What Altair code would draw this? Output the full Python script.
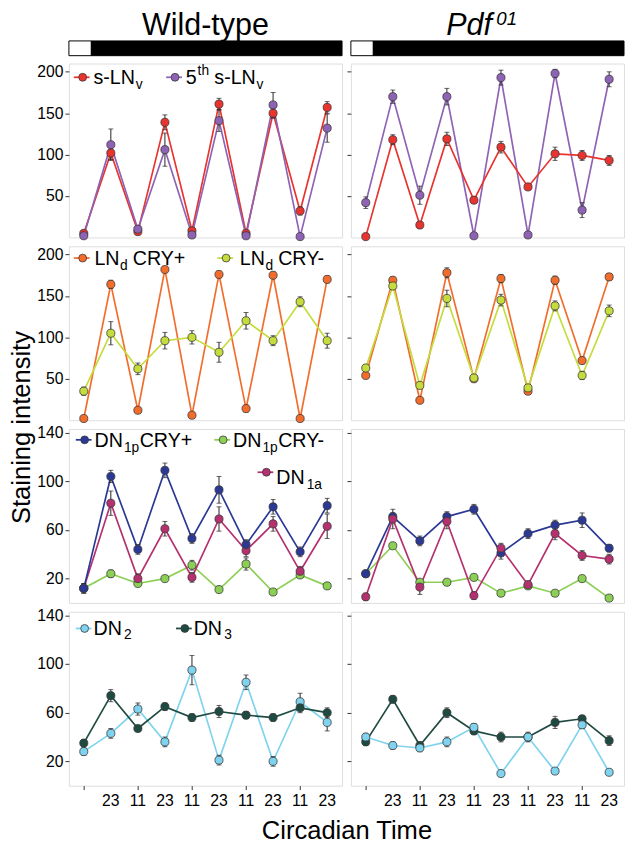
import altair as alt
import pandas as pd

FONT = "Liberation Sans"

# ---------------- data ----------------
ct_index = [1, 2, 3, 4, 5, 6, 7, 8, 9, 10]
ct_labels = ["", "23", "11", "23", "11", "23", "11", "23", "11", "23"]

# row 1 : s-LNv / 5th s-LNv
wt_slnv = [5, 102, 7, 139, 8, 161, 5, 150, 32, 157]
wt_slnv_err = [3, 8, 3, 9, 3, 7, 3, 6, 5, 7]
wt_5th = [2, 112, 10, 106, 3, 141, 2, 160, 1, 132]
wt_5th_err = [2, 19, 4, 20, 2, 13, 2, 15, 2, 17]
pdf_slnv = [1, 118, 15, 119, 45, 109, 61, 101, 99, 93]
pdf_slnv_err = [2, 6, 4, 8, 4, 7, 3, 8, 6, 6]
pdf_5th = [42, 170, 51, 170, 2, 193, 3, 198, 33, 191]
pdf_5th_err = [7, 8, 11, 10, 2, 9, 2, 5, 9, 9]

# row 2 : LNd CRY+ / LNd CRY-
wt_lnd_p = [2, 164, 12, 182, 6, 176, 14, 175, 2, 170]
wt_lnd_p_err = [1, 5, 2, 3, 2, 4, 4, 4, 2, 4]
wt_lnd_m = [35, 105, 62, 96, 100, 82, 120, 96, 143, 96]
wt_lnd_m_err = [5, 14, 7, 10, 8, 12, 10, 6, 6, 9]
pdf_lnd_p = [54, 169, 24, 178, 50, 171, 35, 169, 72, 173]
pdf_lnd_p_err = [3, 4, 3, 6, 3, 5, 3, 5, 4, 4]
pdf_lnd_m = [63, 162, 42, 147, 51, 145, 39, 138, 54, 132]
pdf_lnd_m_err = [3, 4, 3, 10, 3, 7, 4, 6, 5, 7]

# row 3 : DN1p CRY+ / DN1p CRY- / DN1a
wt_dn1p_p = [12, 104, 44, 109, 53, 93, 48, 79, 42, 80]
wt_dn1p_p_err = [4, 5, 4, 6, 4, 11, 4, 6, 4, 6]
wt_dn1p_m = [12, 24, 16, 20, 31, 11, 32, 9, 23, 14]
wt_dn1p_m_err = [2, 3, 2, 2, 4, 2, 5, 2, 2, 2]
wt_dn1a = [12, 82, 20, 61, 21, 69, 43, 65, 26, 63]
wt_dn1a_err = [4, 10, 4, 6, 4, 10, 5, 6, 4, 10]
pdf_dn1p_p = [24, 71, 51, 71, 77, 41, 57, 64, 68, 45]
pdf_dn1p_p_err = [2, 3, 4, 4, 4, 5, 4, 4, 6, 3]
pdf_dn1p_m = [24, 47, 17, 17, 21, 8, 14, 8, 20, 4]
pdf_dn1p_m_err = [2, 2, 2, 2, 2, 2, 2, 2, 2, 2]
pdf_dn1a = [5, 69, 13, 67, 6, 45, 15, 57, 39, 36]
pdf_dn1a_err = [3, 8, 6, 6, 3, 4, 3, 5, 4, 4]

# row 4 : DN2 / DN3
wt_dn2 = [28, 43, 63, 36, 95, 21, 85, 20, 69, 52]
wt_dn2_err = [3, 4, 5, 4, 12, 4, 6, 4, 7, 7]
wt_dn3 = [35, 74, 47, 65, 56, 61, 58, 56, 64, 60]
wt_dn3_err = [3, 5, 2, 3, 3, 5, 3, 3, 4, 4]
pdf_dn2 = [40, 33, 31, 36, 48, 10, 40, 12, 50, 11]
pdf_dn2_err = [3, 3, 3, 4, 3, 2, 4, 2, 3, 2]
pdf_dn3 = [36, 71, 33, 60, 45, 40, 40, 52, 55, 37]
pdf_dn3_err = [3, 3, 3, 4, 3, 4, 3, 5, 2, 4]

series_names = ["s-LNv", "5th s-LNv", "LNd CRY+", "LNd CRY-", "DN1p CRY+",
                "DN1p CRY-", "DN1a", "DN2", "DN3"]
series_colors = ["#e8332e", "#8e62b5", "#f26d2c", "#c6dc3c", "#2b3894",
                 "#8ccf55", "#b5306e", "#7fd3ee", "#1f4a42"]
color_of = dict(zip(series_names, series_colors))

light_dark = pd.DataFrame({"phase": ["L", "D"], "x0": [0.45, 1.28], "x1": [1.28, 10.55]})
tick_labels = pd.DataFrame({"i": ct_index, "lab": ct_labels})

# ---------------- helpers ----------------
W, H = 278, 177
HEAD_H = 42
XDOM = [0.45, 10.55]


def make_df(items):
    rows = []
    for name, vals, errs in items:
        for i, v, e in zip(ct_index, vals, errs):
            rows.append({"series": name, "i": i, "v": v, "lo": max(v - e, 0), "hi": v + e})
    return pd.DataFrame(rows)


color_enc = alt.Color("series:N", scale=alt.Scale(domain=series_names, range=series_colors), legend=None)
one = pd.DataFrame({"a": [0]})


def legend_entry(name, cx, cy, parts):
    """parts: list of (text, x, baseline_y, size)"""
    col = color_of[name]
    layers = [
        alt.Chart(one).mark_rule(color=col, strokeWidth=1.8).encode(
            x=alt.value(cx - 9), x2=alt.value(cx + 7), y=alt.value(cy)),
        alt.Chart(one).mark_circle(color=col, size=64, opacity=1, stroke="#3a3a3a", strokeWidth=0.8).encode(
            x=alt.value(cx), y=alt.value(cy)),
    ]
    for txt, tx, ty, sz in parts:
        layers.append(alt.Chart(one).mark_text(align="left", baseline="alphabetic", font=FONT,
                                               fontSize=sz, color="black").encode(
            x=alt.value(tx), y=alt.value(ty), text=alt.value(txt)))
    return layers


def panel(items, ydom, yvals, labelled, show_x, legend_layers, small_ticks=False,
          ytitle=None, xtitle=None):
    df = make_df(items)
    xaxis = None
    if show_x:
        xkw = dict(values=ct_index, labels=False, tickSize=4, domain=False, grid=False,
                   tickColor="#333")
        if xtitle:
            xaxis = alt.Axis(title=xtitle, titleX=W + 4.5, titleY=54, titleAlign="center",
                             titleBaseline="alphabetic", titleFont=FONT, titleFontSize=26,
                             titleFontWeight="normal", titleColor="black", **xkw)
        else:
            xaxis = alt.Axis(title=None, **xkw)
    lexpr = "datum.value % 40 == 20 ? datum.label : ''" if small_ticks else "datum.label"
    ykw = dict(values=yvals, labels=labelled, labelExpr=lexpr, tickSize=4, domain=False,
               grid=False, labelFontSize=16, labelFont=FONT, labelColor="black",
               tickColor="#333", labelPadding=2)
    if ytitle:
        yaxis = alt.Axis(title=ytitle, titleX=-40, titleY=H + 7, titleAngle=270, titleAlign="center",
                         titleBaseline="alphabetic", titleFont=FONT, titleFontSize=26,
                         titleFontWeight="normal", titleColor="black", **ykw)
    else:
        yaxis = alt.Axis(title=None, **ykw)
    x = alt.X("i:Q", scale=alt.Scale(domain=XDOM, nice=False, zero=False), axis=xaxis)
    y = alt.Y("v:Q", scale=alt.Scale(domain=ydom, nice=False, zero=False), axis=yaxis)
    base = alt.Chart(df)
    lines = base.mark_line(strokeWidth=1.7).encode(x=x, y=y, color=color_enc, detail="series:N")
    bars = base.mark_rule(color="#222", strokeWidth=1).encode(x="i:Q", y="lo:Q", y2="hi:Q")
    cap_lo = base.mark_tick(orient="horizontal", size=5, thickness=1, color="#222").encode(x="i:Q", y="lo:Q")
    cap_hi = base.mark_tick(orient="horizontal", size=5, thickness=1, color="#222").encode(x="i:Q", y="hi:Q")
    pts = base.mark_circle(size=68, opacity=1, stroke="#3a3a3a", strokeWidth=0.8).encode(
        x="i:Q", y="v:Q", color=color_enc)
    extra = []
    if show_x:
        extra.append(alt.Chart(tick_labels).mark_text(align="center", baseline="top", font=FONT,
                                                      fontSize=16, color="black").encode(
            x="i:Q", y=alt.value(H + 8), text="lab:N"))
    return alt.layer(lines, bars, cap_lo, cap_hi, pts, *extra, *legend_layers).properties(width=W, height=H)


# legends (pixel offsets inside each panel)
leg1 = (legend_entry("s-LNv", 14, 14, [("s-LN", 25, 21, 20), ("v", 68, 26, 14)]) +
        legend_entry("5th s-LNv", 108, 14, [("5", 119, 21, 20), ("th", 131, 12, 14),
                                            ("s-LN", 148, 21, 20), ("v", 191, 26, 14)]))
leg2 = (legend_entry("LNd CRY+", 14, 12, [("LN", 26, 19, 20), ("d", 52, 24, 14), ("CRY+", 65, 19, 20)]) +
        legend_entry("LNd CRY-", 160, 12, [("LN", 174, 19, 20), ("d", 200, 24, 14), ("CRY-", 213, 19, 20)]))
leg3 = (legend_entry("DN1p CRY+", 16, 11, [("DN", 26, 18, 20), ("1p", 56, 23, 14), ("CRY+", 72, 18, 20)]) +
        legend_entry("DN1p CRY-", 157, 11, [("DN", 167, 18, 20), ("1p", 197, 23, 14), ("CRY-", 213, 18, 20)]) +
        legend_entry("DN1a", 201, 44, [("DN", 211, 56, 20), ("1a", 242, 61, 14)]))
leg4 = (legend_entry("DN2", 16, 17, [("DN", 25, 24, 20), ("2", 56, 28, 14)]) +
        legend_entry("DN3", 118, 17, [("DN", 127, 24, 20), ("3", 158, 28, 14)]))

Y200 = [0, 210]
Y140 = [0, 143]
V200 = [50, 100, 150, 200]
V140 = [20, 40, 60, 80, 100, 120, 140]

p11 = panel([("s-LNv", wt_slnv, wt_slnv_err), ("5th s-LNv", wt_5th, wt_5th_err)], Y200, V200, True, False, leg1)
p12 = panel([("5th s-LNv", pdf_5th, pdf_5th_err), ("s-LNv", pdf_slnv, pdf_slnv_err)], Y200, V200, False, False, [])
p21 = panel([("LNd CRY+", wt_lnd_p, wt_lnd_p_err), ("LNd CRY-", wt_lnd_m, wt_lnd_m_err)], Y200, V200, True, False,
            leg2, ytitle="Staining intensity")
p22 = panel([("LNd CRY+", pdf_lnd_p, pdf_lnd_p_err), ("LNd CRY-", pdf_lnd_m, pdf_lnd_m_err)], Y200, V200, False,
            False, [])
p31 = panel([("DN1p CRY-", wt_dn1p_m, wt_dn1p_m_err), ("DN1a", wt_dn1a, wt_dn1a_err),
             ("DN1p CRY+", wt_dn1p_p, wt_dn1p_p_err)], Y140, V140, True, False, leg3, True)
p32 = panel([("DN1p CRY-", pdf_dn1p_m, pdf_dn1p_m_err), ("DN1p CRY+", pdf_dn1p_p, pdf_dn1p_p_err),
             ("DN1a", pdf_dn1a, pdf_dn1a_err)], Y140, V140, False, False, [], True)
p41 = panel([("DN2", wt_dn2, wt_dn2_err), ("DN3", wt_dn3, wt_dn3_err)], Y140, V140, True, True, leg4, True,
            xtitle="Circadian Time")
p42 = panel([("DN3", pdf_dn3, pdf_dn3_err), ("DN2", pdf_dn2, pdf_dn2_err)], Y140, V140, False, True, [], True)

no_frame = alt.ViewBackground(stroke="transparent", strokeWidth=0)


def header(title_layers):
    bar = alt.Chart(light_dark).mark_rect(stroke="black", strokeWidth=1).encode(
        x=alt.X("x0:Q", scale=alt.Scale(domain=XDOM, nice=False, zero=False), axis=None),
        x2="x1:Q", y=alt.value(28), y2=alt.value(43),
        fill=alt.Fill("phase:N", scale=alt.Scale(domain=["L", "D"], range=["white", "black"]), legend=None))
    return alt.layer(bar, *title_layers).properties(width=W, height=HEAD_H, view=no_frame)


wt_title = [alt.Chart(one).mark_text(align="center", baseline="alphabetic", font=FONT, fontSize=31,
                                     color="black").encode(x=alt.value(W / 2), y=alt.value(22),
                                                           text=alt.value("Wild-type"))]
pdf_title = [
    alt.Chart(one).mark_text(align="left", baseline="alphabetic", font=FONT, fontSize=31,
                             fontStyle="italic", color="black").encode(
        x=alt.value(97), y=alt.value(22), text=alt.value("Pdf")),
    alt.Chart(one).mark_text(align="left", baseline="alphabetic", font=FONT, fontSize=19,
                             fontStyle="italic", color="black").encode(
        x=alt.value(148), y=alt.value(12), text=alt.value("01")),
]

chart = alt.concat(
    header(wt_title), header(pdf_title),
    p11, p12, p21, p22, p31, p32, p41, p42,
    columns=2, spacing=9, bounds="flush",
    padding={"left": 0, "top": -5, "right": 0, "bottom": 0},
).configure_view(stroke="#6a6a6a", strokeWidth=1.5).configure(background="white")

chart.save("out.html", embed_options={"renderer": "svg", "actions": False})
